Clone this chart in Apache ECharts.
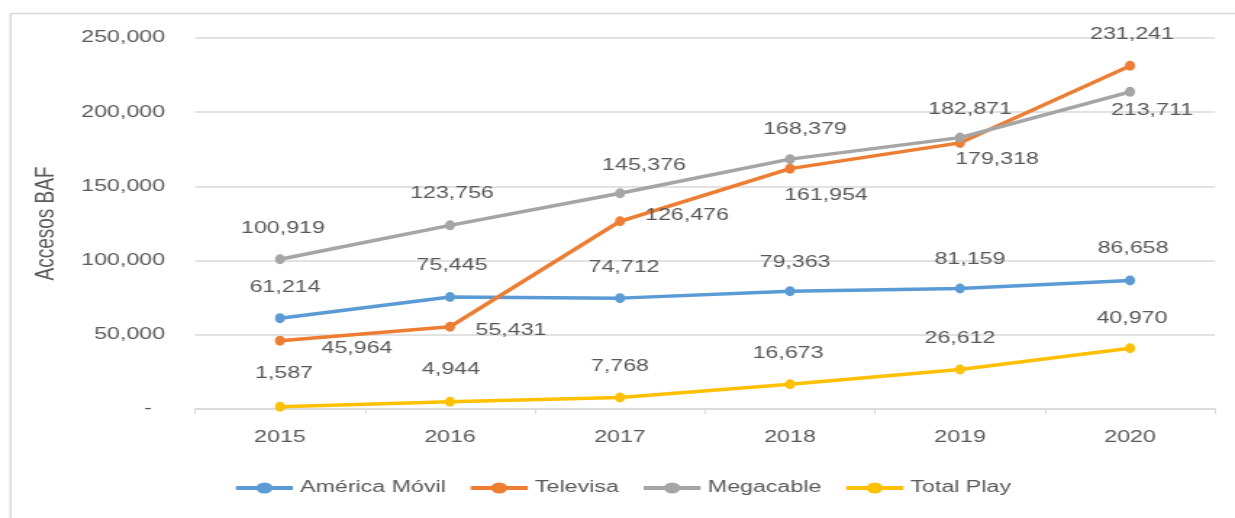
<!DOCTYPE html>
<html>
<head>
<meta charset="utf-8">
<script src="https://cdn.jsdelivr.net/npm/echarts@6/dist/echarts.min.js"></script>
<style>
html,body{margin:0;padding:0;background:#fff;overflow:hidden;}
#wrap{width:1235px;height:518px;overflow:hidden;position:relative;}
#chart{width:852px;height:518px;transform-origin:0 0;position:absolute;left:0;top:0;}
</style>
</head>
<body>
<div id="wrap"><div id="chart"></div></div>
<script>
// ---- data ----
const categories = ['2015', '2016', '2017', '2018', '2019', '2020'];
const americaMovil = [61214, 75445, 74712, 79363, 81159, 86658];
const televisa = [45964, 55431, 126476, 161954, 179318, 231241];
const megacable = [100919, 123756, 145376, 168379, 182871, 213711];
const totalPlay = [1587, 4944, 7768, 16673, 26612, 40970];
const seriesNames = ['América Móvil', 'Televisa', 'Megacable', 'Total Play'];
const yTicks = { min: 0, max: 250000, interval: 50000 };

// ---- layout / style (real pixel offsets of each data label from its point) ----
const labelOffsets = {
  'América Móvil': [[5,-31],[2,-31],[4,-31],[5,-29],[10,-29],[3,-32]],
  'Televisa':      [[77,8],[61,4],[67,-6],[36,27],[37,17],[2,-31]],
  'Megacable':     [[3,-31],[2,-32],[24,-28],[15,-30],[10,-28],[22,19]],
  'Total Play':    [[4,-33],[1,-32],[0,-31],[-2,-31],[0,-31],[2,-30]]
};
const colors = ['#5B9BD5', '#ED7D31', '#A5A5A5', '#FFC000'];

const W = 852, H = 518, S = 1235 / W;
const el = document.getElementById('chart');
el.style.transform = 'scaleX(' + S + ')';

const textColor = '#595959';
const font = 'Liberation Sans, Arial, sans-serif';

function fmt(v) { return v.toLocaleString('en-US'); }

function makeSeries(name, values, idx) {
  const offs = labelOffsets[name];
  return {
    name: name,
    type: 'line',
    data: values.map((v, i) => ({
      value: v,
      label: { offset: [offs[i][0] / S, offs[i][1]] }
    })),
    symbol: 'circle',
    symbolSize: [10 / S, 10],
    lineStyle: { width: 3.5, color: colors[idx] },
    itemStyle: { color: colors[idx] },
    label: {
      show: true,
      position: 'inside',
      align: 'center',
      verticalAlign: 'middle',
      color: textColor,
      fontSize: 16,
      fontFamily: font,
      formatter: p => fmt(p.value)
    },
    emphasis: { disabled: true },
    z: 2 + idx
  };
}

const chart = echarts.init(el, null, { renderer: 'canvas', width: W, height: H });
chart.setOption({
  animation: false,
  backgroundColor: '#ffffff',
  textStyle: { fontFamily: font },
  graphic: [{
    type: 'rect',
    left: 7 / S, top: 11,
    shape: { width: W, height: H },
    style: { fill: 'none', stroke: '#d9d9d9', lineWidth: 1.5 },
    silent: true, z: -10
  }],
  grid: {
    left: 195 / S,
    right: W - 1215 / S,
    top: 38,
    bottom: H - 409,
    containLabel: false
  },
  legend: {
    left: 233 / S,
    top: 480,
    padding: 0,
    itemWidth: 57 / S,
    itemHeight: 14,
    itemGap: 22 / S,
    lineStyle: { width: 4 },
    textStyle: { color: textColor, fontSize: 16, fontFamily: font },
    data: seriesNames
  },
  xAxis: {
    type: 'category',
    data: categories,
    boundaryGap: true,
    axisLine: { lineStyle: { color: '#d9d9d9', width: 1.5 } },
    axisTick: { show: true, length: 5, lineStyle: { color: '#d9d9d9' } },
    axisLabel: { color: textColor, fontSize: 16, fontFamily: font, margin: 21 },
    splitLine: { show: false }
  },
  yAxis: {
    type: 'value',
    min: yTicks.min, max: yTicks.max, interval: yTicks.interval,
    name: 'Accesos BAF',
    nameLocation: 'middle',
    nameGap: 93,
    nameTextStyle: { color: textColor, fontSize: 19, fontFamily: font },
    axisLine: { show: false },
    axisTick: { show: false },
    axisLabel: {
      color: textColor, fontSize: 16, fontFamily: font, margin: 30 / S,
      formatter: v => v === 0 ? '-  ' : fmt(v)
    },
    splitLine: { lineStyle: { color: '#d9d9d9', width: 1.5 } }
  },
  series: [
    makeSeries('América Móvil', americaMovil, 0),
    makeSeries('Televisa', televisa, 1),
    makeSeries('Megacable', megacable, 2),
    makeSeries('Total Play', totalPlay, 3)
  ]
});
</script>
</body>
</html>
